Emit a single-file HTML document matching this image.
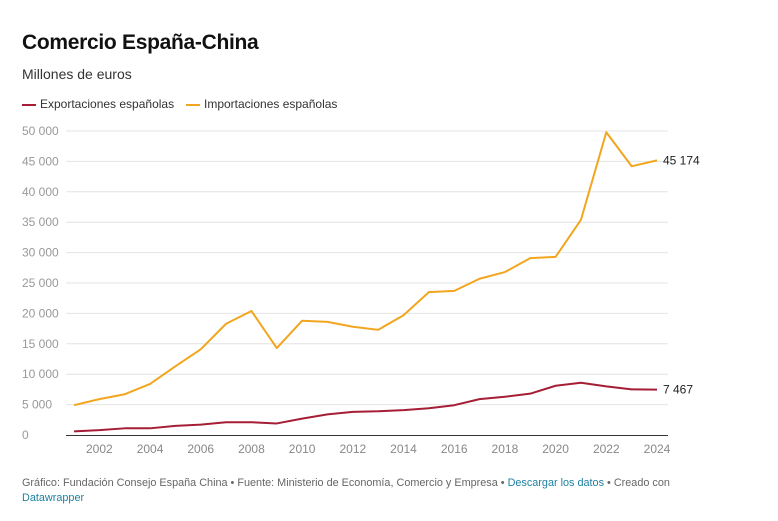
<!DOCTYPE html>
<html><head><meta charset="utf-8"><style>
body{margin:0;background:#fff;width:778px;height:521px;overflow:hidden;font-family:"Liberation Sans",sans-serif;}
.t{position:absolute;white-space:nowrap}
</style></head><body>
<div class="t" style="left:22px;top:31px;font-size:21px;font-weight:bold;color:#111;letter-spacing:-0.3px">Comercio España-China</div>
<div class="t" style="left:22px;top:66px;font-size:14px;color:#333">Millones de euros</div>
<div class="t" style="left:22px;top:97px;font-size:12px;color:#333"><span style="display:inline-block;width:14px;height:2px;background:#a51e35;vertical-align:middle;margin-right:4px"></span>Exportaciones españolas</div>
<div class="t" style="left:186px;top:97px;font-size:12px;color:#333"><span style="display:inline-block;width:14px;height:2px;background:#f2a51e;vertical-align:middle;margin-right:4px"></span>Importaciones españolas</div>
<svg id="chart" width="778" height="521" style="position:absolute;left:0;top:0"></svg>
<div class="t" style="left:22px;top:476px;font-size:10.85px;color:#666;line-height:15px">Gráfico: Fundación Consejo España China • Fuente: Ministerio de Economía, Comercio y Empresa • <span style="color:#1d81a2">Descargar los datos</span> • Creado con<br><span style="color:#1d81a2">Datawrapper</span></div>
<script>
const years=[2001,2002,2003,2004,2005,2006,2007,2008,2009,2010,2011,2012,2013,2014,2015,2016,2017,2018,2019,2020,2021,2022,2023,2024];
const exportsData=[600,800,1100,1100,1500,1700,2100,2100,1900,2700,3400,3800,3900,4100,4400,4900,5900,6300,6800,8100,8600,8000,7500,7467];
const importsData=[4900,5900,6700,8400,11300,14100,18300,20400,14300,18800,18600,17800,17300,19700,23500,23700,25700,26800,29100,29300,35400,49800,44200,45174];
const yTicks=[0,5000,10000,15000,20000,25000,30000,35000,40000,45000,50000];
const xTicks=[2002,2004,2006,2008,2010,2012,2014,2016,2018,2020,2022,2024];
const svg=document.getElementById('chart');const NS='http://www.w3.org/2000/svg';
const x=v=>74+(v-2001)*(657-74)/23;
const y=v=>435-v*(435-131)/50000;
const fmt=v=>String(v).replace(/\B(?=(\d{3})+(?!\d))/g,' ');
function mk(t,a){const e=document.createElementNS(NS,t);for(const k in a)e.setAttribute(k,a[k]);svg.appendChild(e);return e;}
yTicks.forEach(v=>{
 if(v>0){const g=mk('line',{x1:66,x2:668,y1:y(v),y2:y(v),stroke:'#e4e4e4','stroke-width':1});
 
 }
 const t=mk('text',{x:22,y:y(v)+4,'font-size':12,fill:'#999','font-family':'Liberation Sans, sans-serif'});t.textContent=fmt(v);
 
 
});
const ax=mk('line',{x1:66,x2:668,y1:y(0)+0.5,y2:y(0)+0.5,stroke:'#333','stroke-width':1});


xTicks.forEach(v=>{const t=mk('text',{x:x(v),y:453,'text-anchor':'middle','font-size':12,fill:'#888','font-family':'Liberation Sans, sans-serif'});t.textContent=v;
 
 });
function line(data,color,name){const p=mk('polyline',{points:data.map((v,i)=>x(years[i])+','+y(v)).join(' '),fill:'none',stroke:color,'stroke-width':2,'stroke-linejoin':'round'});
 
 
 const l=data[data.length-1];const t=mk('text',{x:x(years[years.length-1])+6,y:y(l)+4,'font-size':12,fill:'#222','font-family':'Liberation Sans, sans-serif'});t.textContent=fmt(l);
 
 }
line(importsData,'#f2a51e','imports-line');
line(exportsData,'#a51e35','exports-line');
</script>
</body></html>
